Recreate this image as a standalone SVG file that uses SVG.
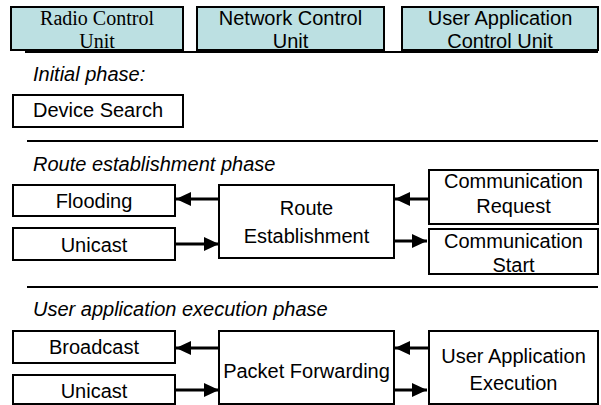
<svg xmlns="http://www.w3.org/2000/svg" width="601" height="405" viewBox="0 0 601 405">
  <style>
    .unit { fill: #bce0e2; stroke: #000; stroke-width: 2; }
    .box { fill: #fff; stroke: #000; stroke-width: 2; }
    .sep { stroke: #000; stroke-width: 2; }
    .t { font-family: "Liberation Sans", Arial, sans-serif; font-size: 20px; fill: #000; text-anchor: middle; }
    .ts { font-family: "Liberation Serif", "Times New Roman", serif; font-size: 20px; fill: #000; text-anchor: middle; }
    .ph { font-family: "Liberation Sans", Arial, sans-serif; font-size: 20px; font-style: italic; fill: #000; }
    .arr { stroke: #000; stroke-width: 3; fill: none; marker-end: url(#head); }
  </style>
  <defs>
    <marker id="head" markerUnits="userSpaceOnUse" markerWidth="15" markerHeight="14" refX="15" refY="7" orient="auto">
      <path d="M0,0 L15,7 L0,14 z" fill="#000"/>
    </marker>
  </defs>
  <rect width="601" height="405" fill="#fff"/>

  <!-- control units -->
  <line class="sep" x1="25" y1="52" x2="598" y2="52"/>
  <g id="radio-control-unit">
    <rect class="unit" x="11" y="7" width="172" height="43"/>
    <text class="ts" x="97" y="25">Radio Control</text>
    <text class="ts" x="97" y="48">Unit</text>
  </g>
  <g id="network-control-unit">
    <rect class="unit" x="197" y="7" width="187" height="43"/>
    <text class="t" x="290.5" y="25">Network Control</text>
    <text class="t" x="290.5" y="48">Unit</text>
  </g>
  <g id="user-application-control-unit">
    <rect class="unit" x="402" y="7" width="196" height="43"/>
    <text class="t" x="500" y="25">User Application</text>
    <text class="t" x="500" y="48">Control Unit</text>
  </g>

  <!-- initial phase -->
  <text class="ph" x="33" y="81">Initial phase:</text>
  <g id="device-search">
    <rect class="box" x="13" y="95" width="170" height="32"/>
    <text class="t" x="98" y="117">Device Search</text>
  </g>
  <line class="sep" x1="27" y1="141" x2="598" y2="141"/>

  <!-- route establishment phase -->
  <text class="ph" x="33" y="171">Route establishment phase</text>
  <g id="flooding">
    <rect class="box" x="13" y="185" width="162" height="31"/>
    <text class="t" x="94" y="208">Flooding</text>
  </g>
  <g id="unicast-route">
    <rect class="box" x="13" y="228" width="162" height="32"/>
    <text class="t" x="94" y="252">Unicast</text>
  </g>
  <g id="route-establishment">
    <rect class="box" x="219" y="185" width="175" height="73"/>
    <text class="t" x="306.5" y="215">Route</text>
    <text class="t" x="306.5" y="243">Establishment</text>
  </g>
  <g id="communication-request">
    <rect class="box" x="429" y="170" width="169" height="54"/>
    <text class="t" x="513.5" y="188">Communication</text>
    <text class="t" x="513.5" y="213">Request</text>
  </g>
  <g id="communication-start">
    <rect class="box" x="429" y="229" width="169" height="45"/>
    <text class="t" x="513.5" y="248">Communication</text>
    <text class="t" x="513.5" y="272">Start</text>
  </g>
  <line class="sep" x1="27" y1="287" x2="598" y2="287"/>

  <!-- user application execution phase -->
  <text class="ph" x="33" y="316">User application execution phase</text>
  <g id="broadcast">
    <rect class="box" x="13" y="331" width="162" height="32"/>
    <text class="t" x="94" y="354">Broadcast</text>
  </g>
  <g id="unicast-forward">
    <rect class="box" x="13" y="375" width="162" height="29"/>
    <text class="t" x="94" y="398">Unicast</text>
  </g>
  <g id="packet-forwarding">
    <rect class="box" x="219" y="331" width="175" height="73"/>
    <text class="t" x="306.5" y="378">Packet Forwarding</text>
  </g>
  <g id="user-application-execution">
    <rect class="box" x="429" y="331" width="169" height="73"/>
    <text class="t" x="513.5" y="363">User Application</text>
    <text class="t" x="513.5" y="390">Execution</text>
  </g>

  <!-- connectors -->
  <g id="connectors">
    <line class="arr" x1="219" y1="199" x2="176" y2="199"/>
    <line class="arr" x1="175" y1="244" x2="219" y2="244"/>
    <line class="arr" x1="429" y1="199" x2="395" y2="199"/>
    <line class="arr" x1="394" y1="241" x2="427" y2="241"/>
    <line class="arr" x1="219" y1="348" x2="176" y2="348"/>
    <line class="arr" x1="175" y1="390" x2="219" y2="390"/>
    <line class="arr" x1="429" y1="348" x2="395" y2="348"/>
    <line class="arr" x1="394" y1="390" x2="427" y2="390"/>
  </g>
</svg>
